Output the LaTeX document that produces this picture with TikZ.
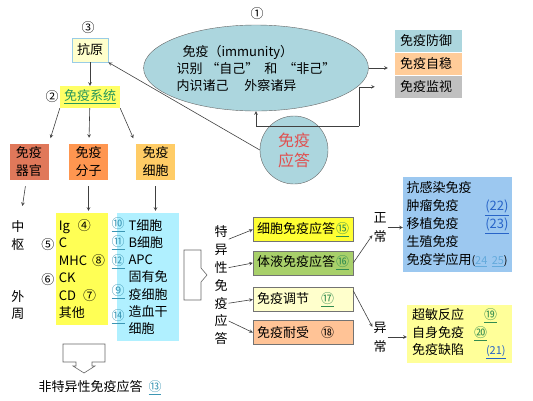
\documentclass[tikz,border=0pt]{standalone}
\usepackage{fontspec}
\setmainfont{Noto Sans CJK SC}
\usetikzlibrary{arrows,shapes,positioning,calc}

\definecolor{immblue}{RGB}{172,214,222}
\definecolor{antigenfill}{RGB}{255,255,204}
\definecolor{antigenedge}{RGB}{153,204,230}
\definecolor{sysyellow}{RGB}{255,255,102}
\definecolor{sysgreen}{RGB}{40,150,90}
\definecolor{organfill}{RGB}{224,120,90}
\definecolor{molfill}{RGB}{255,150,80}
\definecolor{cellfill}{RGB}{255,204,102}
\definecolor{molyellow}{RGB}{255,255,85}
\definecolor{cellcyan}{RGB}{176,240,255}
\definecolor{cellyellow}{RGB}{255,255,51}
\definecolor{humgreen}{RGB}{168,208,106}
\definecolor{regfill}{RGB}{255,255,204}
\definecolor{tolfill}{RGB}{255,195,150}
\definecolor{normblue}{RGB}{156,200,240}
\definecolor{abnyellow}{RGB}{255,255,153}
\definecolor{stabfill}{RGB}{255,204,153}
\definecolor{survfill}{RGB}{192,192,192}
\definecolor{respred}{RGB}{224,80,80}
\definecolor{linkteal}{RGB}{60,150,180}
\definecolor{linkgreen}{RGB}{50,140,80}
\definecolor{linkblue}{RGB}{40,100,200}
\definecolor{linklight}{RGB}{100,170,220}

\newcommand{\linknum}[2][linkteal]{{\color{#1}\underline{#2}}}

\begin{document}
\begin{tikzpicture}[
    x=1pt,y=-1pt,
    font=\fontsize{13}{15}\selectfont,
    colbox/.style={rectangle,minimum width=39pt,minimum height=36pt,inner sep=1pt,align=center,font=\fontsize{13}{18}\selectfont},
    listbox/.style={rectangle,inner sep=3pt,align=left},
    respbox/.style={rectangle,draw=black!55,minimum width=100pt,minimum height=24pt,inner xsep=4pt,inner ysep=1pt,text width=92pt,align=left},
    funcbox/.style={rectangle,minimum height=22.5pt,inner xsep=5pt,inner ysep=0pt,text width=57pt,align=left},
    vtext/.style={align=center,inner sep=1pt,font=\fontsize{13}{19}\selectfont},
    arrow/.style={->,>=stealth,draw=black!75,line width=0.6pt}
]
    \useasboundingbox (0,0) rectangle (533,400);

    \node[ellipse,draw=black!60,fill=immblue,minimum width=172pt,minimum height=86pt,inner sep=0pt,align=left,font=\fontsize{13}{17}\selectfont] (immunity) at (256,68)
        {\hspace*{6pt}免疫（immunity）\\识别\hspace{4pt}“自己”\hspace{6pt}和\hspace{6pt}“非己”\\内识诸己\hspace{16pt}外察诸异};
    \node (n1) at (257,14) {①};

    \node[funcbox,fill=immblue] (defense) at (428.5,41) {免疫防御};
    \node[funcbox,fill=stabfill,below=0pt of defense] (stability) {免疫自稳};
    \node[funcbox,fill=survfill,below=0pt of stability] (surveil) {免疫监视};

    \node[circle,draw=black!60,fill=immblue,minimum size=68pt,inner sep=0pt,align=center,text=respred,font=\fontsize{16}{20}\selectfont] (response) at (294,150) {免疫\\应答};

    \node (n3) at (88,28) {③};
    \node[rectangle,draw=antigenedge,fill=antigenfill,line width=0.8pt,minimum width=36pt,minimum height=24pt,inner sep=1pt] (antigen) at (90,50) {抗原};
    \node (n2) at (52,97) {②};
    \node[rectangle,fill=sysyellow,minimum width=60pt,minimum height=22pt,inner sep=1pt] (system) at (90,97) {\linknum[sysgreen]{免疫系统}};

    \node[colbox,fill=organfill] (organ) at (29,162) {免疫\\器官};
    \node[colbox,fill=molfill] (molecule) at (88.5,162) {免疫\\分子};
    \node[colbox,fill=cellfill] (cell) at (155.5,162) {免疫\\细胞};

    \node[vtext,font=\fontsize{13}{18}\selectfont] (central) at (18,236) {中\\枢};
    \node[vtext,font=\fontsize{13}{17}\selectfont] (peripheral) at (18,305) {外\\周};

    \node[listbox,fill=molyellow,minimum width=52pt,minimum height=112pt,font=\fontsize{13}{17.4}\selectfont] (mollist) at (82,269)
        {Ig\hspace{8pt}④\\C\\MHC\hspace{5pt}⑧\\CK\\CD\hspace{7pt}⑦\\其他};
    \node (n5) at (48,245) {⑤};
    \node (n6) at (48,280) {⑥};

    \node[listbox,fill=cellcyan,minimum width=62pt,minimum height=128pt,font=\fontsize{13}{17.2}\selectfont] (celllist) at (148,277)
        {T细胞\\B细胞\\APC\\固有免\\疫细胞\\造血干\\细胞};
    \node (n10) at (118,225) {\linknum{⑩}};
    \node (n11) at (118,243) {\linknum{⑪}};
    \node (n12) at (118,262) {\linknum{⑫}};
    \node (n9) at (118,292) {\linknum{⑨}};
    \node (n14) at (118,317) {\linknum{⑭}};

    \draw[black!60,line width=0.6pt] (184,250) -- (201,250) -- (201,268) -- (207,275) -- (201,282) -- (201,300) -- (184,300) -- cycle;

    \foreach \ch [count=\i] in {特,异,性,免,疫,应,答}
        \node[inner sep=1pt] (sp\i) at (221,{232+17.8*(\i-1)}) {\ch};

    \node[respbox,fill=cellyellow] (cellular) at (303,229.5) {细胞免疫应答\hfill\linknum[linkgreen]{⑮}};
    \node[respbox,fill=humgreen] (humoral) at (303,263) {体液免疫应答\hfill\linknum[linkgreen]{⑯}};
    \node[respbox,fill=regfill] (regulation) at (303,299.5) {免疫调节\hspace{12pt}\linknum[linkgreen]{⑰}};
    \node[respbox,fill=tolfill] (tolerance) at (303,332.5) {免疫耐受\hspace{12pt}⑱};

    \node[vtext] (normal) at (380,227.5) {正\\常};
    \node[vtext] (abnormal) at (380,337) {异\\常};

    \node[listbox,fill=normblue,minimum width=109pt,minimum height=95pt,inner xsep=3.5pt,text width=102pt,font=\fontsize{13}{18}\selectfont] (normallist) at (457.5,224.5)
        {抗感染免疫\\肿瘤免疫\hfill\linknum[linkblue]{(22)}\hspace*{8pt}\\移植免疫\hfill\linknum[linkblue]{(23)}\hspace*{8pt}\\生殖免疫\\免疫学应用{\fontsize{11}{18}\selectfont(\linknum[linklight]{24} \linknum[linklight]{25})}};

    \node[listbox,fill=abnyellow,minimum width=105pt,minimum height=58pt,inner xsep=5pt,text width=95pt,font=\fontsize{13}{17.5}\selectfont] (abnormallist) at (459.5,334)
        {超敏反应\hspace{20pt}\linknum[linkgreen]{⑲}\\自身免疫\hspace{10pt}\linknum[linkgreen]{⑳}\\免疫缺陷\hspace{22pt}\linknum[linkblue]{\fontsize{11}{17.5}\selectfont(21)}};

    \draw[black!60,line width=0.6pt] (63,344) -- (105,344) -- (105,362) -- (92,362) -- (92,366) -- (95,366) -- (84,373) -- (73,366) -- (76,366) -- (76,362) -- (63,362) -- cycle;
    \node (nonspecific) at (100,388) {非特异性免疫应答\hspace{6pt}\linknum{⑬}};

    \draw[arrow] (antigen) -- (system);
    \draw[arrow,shorten >=6pt] (system.south west) -- (organ.north east);
    \draw[arrow,shorten >=6pt] (system) -- (molecule);
    \draw[arrow,shorten >=6pt] (system.south east) -- (cell.north west);
    \draw[arrow,shorten <=6pt,shorten >=14pt] (organ) -- (central);
    \draw[arrow,shorten <=6pt,shorten >=2pt] (molecule.south) -- (molecule.south |- mollist.north);
    \draw[arrow,shorten <=6pt,shorten >=2pt] (cell.south) -- (cell.south |- celllist.north);

    \draw[arrow] (sp1.south east) -- (cellular.west);
    \draw[arrow] (sp3.east) -- (humoral.west);
    \draw[arrow] (sp5.east) -- (regulation.west);
    \draw[arrow] (sp6.east) -- (tolerance.west);

    \draw[arrow] (humoral.east) -- (normal.225);
    \draw[arrow] (regulation.10) -- (abnormal.127);
    \draw[arrow] (normal.east) -- (normal.east -| normallist.west);
    \draw[arrow] (abnormal.east) -- (abnormal.east -| abnormallist.west);

    \draw[arrow,shorten >=7pt] (immunity.east) -- (immunity.east -| stability.west);
    \draw[arrow] (response.west) -- (antigen.south east);
    \coordinate (loopL) at (256,126);
    \coordinate (loopR) at (359,126);
    \draw[arrow] (loopR) -- (loopL) -- (immunity.south);
    \draw[arrow,shorten >=20pt] (loopR) |- (surveil.west);
\end{tikzpicture}
\end{document}
